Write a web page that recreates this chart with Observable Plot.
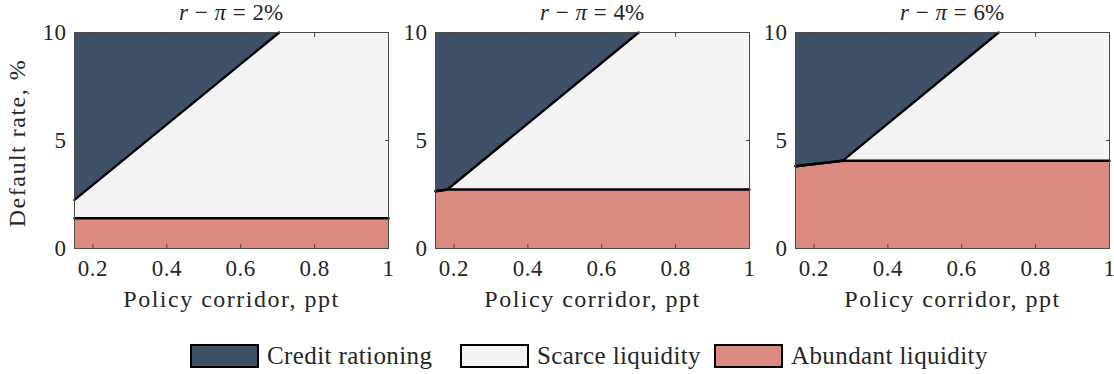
<!DOCTYPE html>
<html>
<head>
<meta charset="utf-8">
<script src="https://cdn.jsdelivr.net/npm/d3@7"></script>
<script src="https://cdn.jsdelivr.net/npm/@observablehq/plot@0.6"></script>
<style>
  html, body { margin: 0; padding: 0; background: #fff; }
  #chart { position: relative; width: 1114px; height: 374px; font-family: "Liberation Serif", "Times New Roman", serif; color: #262626; }
  .panel { position: absolute; top: 0; }
  .panel g[aria-label="x-axis tick label"] text,
  .panel g[aria-label="y-axis tick label"] text { letter-spacing: 0.5px; }
  .panel g[aria-label="text"] text { letter-spacing: 1.5px; }
  .title { position: absolute; top: -1px; font-size: 23px; line-height: 28px; text-align: center; white-space: nowrap; word-spacing: 1px; }
  .ylabel { position: absolute; left: 17px; top: 143px; font-size: 24px; letter-spacing: 1.5px; transform: translate(-50%, -50%) rotate(-90deg); white-space: nowrap; }
  .item { position: absolute; top: 344px; display: flex; align-items: center; font-size: 25px; line-height: 24px; letter-spacing: 0.4px; white-space: nowrap; }
  .swatch { width: 69px; height: 24px; border: 2px solid #000; margin-right: 8px; box-sizing: border-box; }
</style>
</head>
<body>
<div id="chart"></div>
<script>
// Real rate spread shown in each panel (%)
const spreads = [2, 4, 6];

// Boundary of the credit-rationing region: corridor (ppt) vs default rate (%)
const rationingCorridor = [[0.15, 0.704], [0.15, 0.182, 0.70], [0.15, 0.277, 0.70]];
const rationingDefault  = [[2.25, 10],    [2.65, 2.73, 10],    [3.81, 4.06, 10]];

// Upper boundary of the abundant-liquidity region
const abundantCorridor = [[0.15, 1],   [0.15, 0.182, 1],    [0.15, 0.277, 1]];
const abundantDefault  = [[1.40, 1.40], [2.65, 2.73, 2.73], [3.81, 4.06, 4.06]];

const xTicks = [0.2, 0.4, 0.6, 0.8, 1];
const xTickLabels = ["0.2", "0.4", "0.6", "0.8", "1"];
const yTicks = [0, 5, 10];
const yTickLabels = ["0", "5", "10"];

const regimes = ["Credit rationing", "Scarce liquidity", "Abundant liquidity"];
const regimeColors = ["#405067", "#f3f3f3", "#dc8b80"];

const xLabel = "Policy corridor, ppt";
const yLabel = "Default rate, %";

// Panel geometry: left offset of each svg and its left margin
const panelLeft = [0, 395, 755];
const panelMarginLeft = [74, 40, 40];
const plotWidth = 314;
const marginRight = 6;
const legendLeft = [190, 460, 714];

const serif = '"Liberation Serif", "Times New Roman", serif';
const chart = document.getElementById("chart");
const axisColor = "#4a4a4a";
const tickFont = {fontSize: 23, fontFamily: serif};

spreads.forEach((s, i) => {
  const rPts = rationingCorridor[i].map((x, j) => ({x, y: rationingDefault[i][j]}));
  const aPts = abundantCorridor[i].map((x, j) => ({x, y: abundantDefault[i][j]}));
  const width = panelMarginLeft[i] + plotWidth + marginRight;

  const svg = Plot.plot({
    width,
    height: 312,
    marginLeft: panelMarginLeft[i],
    marginRight,
    marginTop: 32,
    marginBottom: 64,
    style: {background: "transparent", color: "#262626", fontFamily: serif},
    x: {domain: [0.15, 1]},
    y: {domain: [0, 10]},
    marks: [
      Plot.frame({fill: regimeColors[1]}),
      Plot.areaY(rPts, {x: "x", y1: "y", y2: 10, fill: regimeColors[0]}),
      Plot.areaY(aPts, {x: "x", y1: 0, y2: "y", fill: regimeColors[2]}),
      Plot.line(aPts, {x: "x", y: "y", stroke: "#000", strokeWidth: 2.4}),
      Plot.line(rPts, {x: "x", y: "y", stroke: "#000", strokeWidth: 2.4}),
      Plot.frame({stroke: axisColor, strokeWidth: 1}),
      Plot.axisX(xTicks, {anchor: "bottom", tickSize: -4, tickPadding: 15, stroke: axisColor,
        tickFormat: (d) => xTickLabels[xTicks.indexOf(d)], label: null, ...tickFont}),
      Plot.axisX(xTicks, {anchor: "top", tickSize: -4, tickFormat: () => "", stroke: axisColor, label: null}),
      Plot.axisY(yTicks, {anchor: "left", tickSize: -4, tickPadding: 12, stroke: axisColor,
        tickFormat: (d) => yTickLabels[yTicks.indexOf(d)], label: null, ...tickFont}),
      Plot.axisY(yTicks, {anchor: "right", tickSize: -4, tickFormat: () => "", stroke: axisColor, label: null}),
      Plot.text([xLabel], {frameAnchor: "bottom", dy: 58, text: (d) => d, fontSize: 24, fontFamily: serif, fill: "#262626"})
    ]
  });
  svg.classList.add("panel");
  svg.style.left = panelLeft[i] + "px";
  svg.style.overflow = "visible";
  chart.appendChild(svg);

  const title = document.createElement("div");
  title.className = "title";
  title.style.left = (panelLeft[i] + panelMarginLeft[i]) + "px";
  title.style.width = plotWidth + "px";
  title.innerHTML = `<i>r</i> − <i>π</i> = ${s}%`;
  chart.appendChild(title);
});

const yl = document.createElement("div");
yl.className = "ylabel";
yl.textContent = yLabel;
chart.appendChild(yl);

regimes.forEach((name, k) => {
  const item = document.createElement("div");
  item.className = "item";
  item.style.left = legendLeft[k] + "px";
  item.innerHTML = `<div class="swatch" style="background:${regimeColors[k]}"></div><span>${name}</span>`;
  chart.appendChild(item);
});
</script>
</body>
</html>
